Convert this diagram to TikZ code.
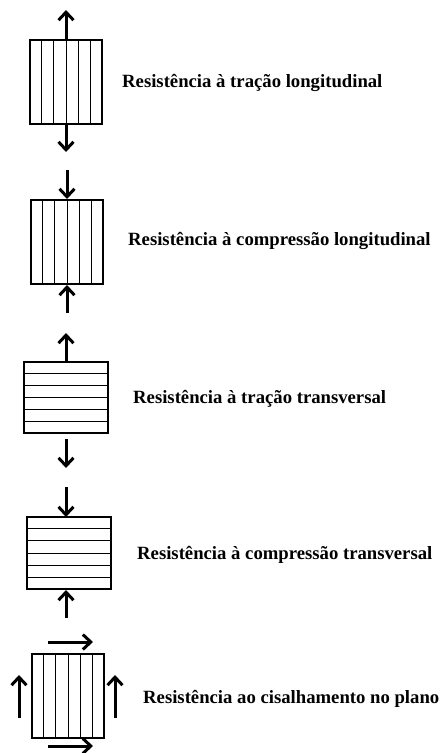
\documentclass[tikz,border=0pt]{standalone}
\usepackage{fontspec}
\setmainfont{Liberation Serif}
\usetikzlibrary{arrows.meta,calc}
\begin{document}
\begin{tikzpicture}[x=1pt,y=-1pt,
  fiberbox/.style={draw,line width=2pt,rectangle,inner sep=0pt},
  force/.style={line width=3pt,-{Straight Barb[length=8pt,width=15pt,line width=3pt]}},
  lbl/.style={anchor=west,inner sep=0pt,font=\fontsize{18.7}{22}\selectfont\bfseries},
  fib/.style={line width=1pt}]
\useasboundingbox (0,0) rectangle (441,753);

% Panel 1
\node[fiberbox,minimum width=72pt,minimum height=84pt] (b1) at (66,82) {};
\foreach \k in {1,...,5}{\draw[fib] ($(b1.north west)!\k/6!(b1.north east)$) -- ($(b1.south west)!\k/6!(b1.south east)$);}
\coordinate (t1) at (66,10);
\coordinate (u1) at (66,152);
\draw[force] (b1.north) -- (t1);
\draw[force] (b1.south) -- (u1);
\node[lbl] (l1) at (122,83) {Resistência à tração longitudinal};

% Panel 2
\node[fiberbox,minimum width=72pt,minimum height=84pt] (b2) at (67,242) {};
\foreach \k in {1,...,5}{\draw[fib] ($(b2.north west)!\k/6!(b2.north east)$) -- ($(b2.south west)!\k/6!(b2.south east)$);}
\coordinate (t2) at (67,170);
\coordinate (u2) at (67,313);
\draw[force] (t2) -- (b2.north);
\draw[force] (u2) -- (b2.south);
\node[lbl] (l2) at (128,241) {Resistência à compressão longitudinal};

% Panel 3
\node[fiberbox,minimum width=84pt,minimum height=71pt] (b3) at (66,397.5) {};
\foreach \k in {1,...,5}{\draw[fib] ($(b3.north west)!\k/6!(b3.south west)$) -- ($(b3.north east)!\k/6!(b3.south east)$);}
\coordinate (t3) at (66,333);
\coordinate (s3) at (66,439);
\coordinate (u3) at (66,468);
\draw[force] (b3.north) -- (t3);
\draw[force] (s3) -- (u3);
\node[lbl] (l3) at (133,399) {Resistência à tração transversal};

% Panel 4
\node[fiberbox,minimum width=84pt,minimum height=72pt] (b4) at (69,553) {};
\foreach \k in {1,...,5}{\draw[fib] ($(b4.north west)!\k/6!(b4.south west)$) -- ($(b4.north east)!\k/6!(b4.south east)$);}
\coordinate (t4) at (66,487);
\coordinate (u4) at (66,618);
\draw[force] (t4) -- (66,517);
\draw[force] (u4) -- (66,590);
\node[lbl] (l4) at (137,555) {Resistência à compressão transversal};

% Panel 5
\node[fiberbox,minimum width=72pt,minimum height=84pt] (b5) at (68,696) {};
\foreach \k in {1,...,5}{\draw[fib] ($(b5.north west)!\k/6!(b5.north east)$) -- ($(b5.south west)!\k/6!(b5.south east)$);}
\coordinate (ha) at (48,642);
\coordinate (hb) at (93,642);
\coordinate (hc) at (48,746);
\coordinate (hd) at (93,746);
\coordinate (va) at (19,718);
\coordinate (vb) at (19,675);
\coordinate (vc) at (115,718);
\coordinate (vd) at (115,675);
\draw[force] (ha) -- (hb);
\draw[force] (hc) -- (hd);
\draw[force] (va) -- (vb);
\draw[force] (vc) -- (vd);
\node[lbl] (l5) at (143,699) {Resistência ao cisalhamento no plano};
\end{tikzpicture}
\end{document}
